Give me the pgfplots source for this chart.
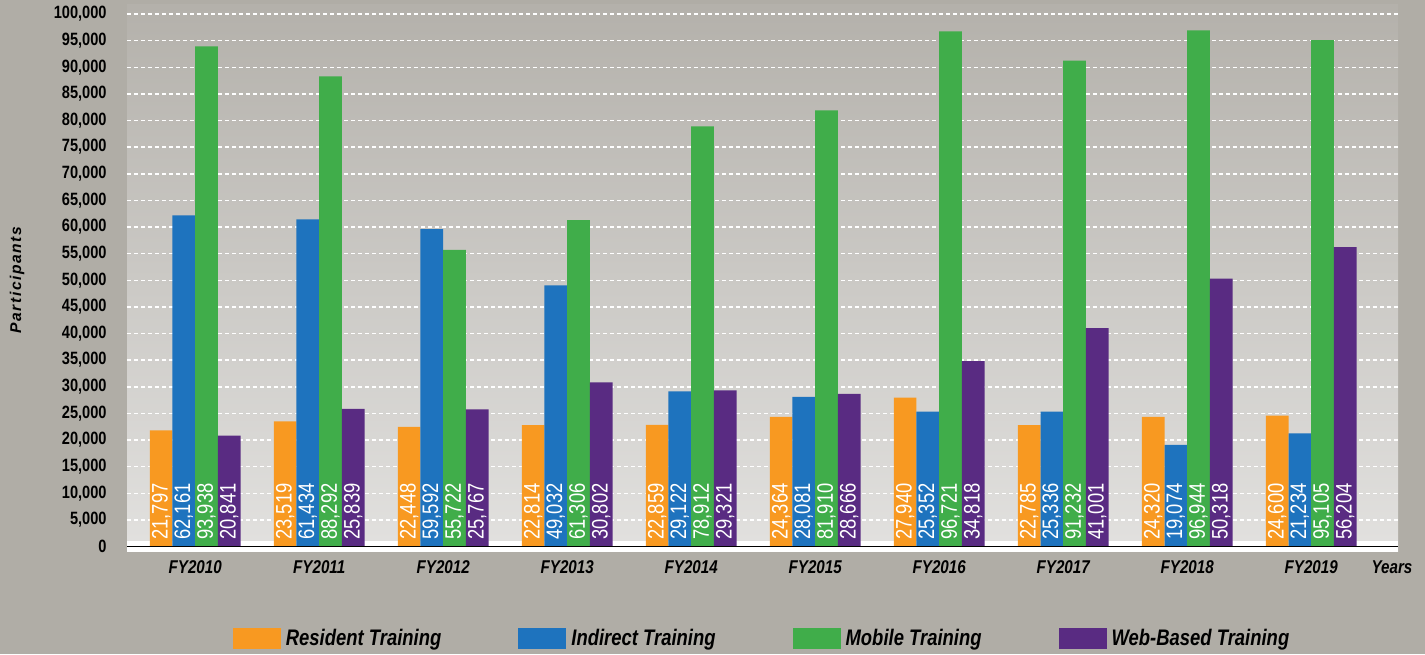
\documentclass[border=0pt]{standalone}
\usepackage{pgfplots}
\pgfplotsset{compat=1.18}
\usepackage{fontspec}
\setmainfont{Liberation Sans}
\newfontfamily\narrow{Liberation Sans}[FakeStretch=0.82]
\definecolor{bgout}{RGB}{176,173,166}
\definecolor{plottop}{RGB}{180,177,171}
\definecolor{plotbot}{RGB}{226,225,223}
\definecolor{cres}{RGB}{248,153,33}
\definecolor{cind}{RGB}{30,115,190}
\definecolor{cmob}{RGB}{64,173,74}
\definecolor{cweb}{RGB}{89,43,130}
\begin{document}
\begin{tikzpicture}
\fill[bgout] (-63.5pt,-53.75pt) rectangle (649pt,273.25pt);
\shade[top color=plottop, bottom color=plotbot] (0,-2.5pt) rectangle (635.5pt,270.75pt);
\begin{axis}[
  width=635.5pt, height=266.25pt, scale only axis,
  xmin=-0.55, xmax=9.7, ymin=0, ymax=100000,
  axis line style={draw=none}, major tick length=0pt,
  ybar=0pt, bar width=11.35pt,
  ytick={0,5000,...,100000},
  xtick={0,...,9},
  xticklabels={FY2010,FY2011,FY2012,FY2013,FY2014,FY2015,FY2016,FY2017,FY2018,FY2019},
  scaled y ticks=false,
  /pgf/number format/.cd, fixed, precision=0, 1000 sep={,}, assume math mode=true,
  /pgfplots/.cd,
  ymajorgrids,
  grid style={white, line width=0.75pt, dash pattern=on 2pt off 1.5pt},
  yticklabel style={font=\narrow\bfseries\fontsize{8.9pt}{10pt}\selectfont, inner xsep=0pt, xshift=-10pt},
  xticklabel style={font=\narrow\bfseries\itshape\fontsize{9.25pt}{11pt}\selectfont, anchor=base, yshift=-13.25pt, inner sep=0pt},
  nodes near coords,
  visualization depends on={y \as \rawy},
  every node near coord/.append style={shift={(axis direction cs:0,-\rawy)}, rotate=90, anchor=west, text=white, font=\narrow\fontsize{11.2pt}{13pt}\selectfont, inner xsep=3.25pt, inner ysep=0pt},
  every axis plot/.append style={draw=none, legend image code/.code={\fill[##1] (0pt,-5.25pt) rectangle (24pt,5.25pt);}},
  legend columns=4,
  legend style={at={(0.0783,-0.1735)}, anchor=west, draw=none, fill=none,
    font=\narrow\bfseries\itshape\fontsize{11.25pt}{13pt}\selectfont,
    nodes={inner xsep=0pt, inner ysep=1pt},
    /tikz/every odd column/.append style={column sep=2.5pt},
    /tikz/every even column/.append style={column sep=38.5pt}},
]
\fill[white] (rel axis cs:0,0) rectangle (rel axis cs:1,0.0103);
\addplot[fill=cres] coordinates {(0,21797) (1,23519) (2,22448) (3,22814) (4,22859) (5,24364) (6,27940) (7,22785) (8,24320) (9,24600)};
\addplot[fill=cind] coordinates {(0,62161) (1,61434) (2,59592) (3,49032) (4,29122) (5,28081) (6,25352) (7,25336) (8,19074) (9,21234)};
\addplot[fill=cmob] coordinates {(0,93938) (1,88292) (2,55722) (3,61306) (4,78912) (5,81910) (6,96721) (7,91232) (8,96944) (9,95105)};
\addplot[fill=cweb] coordinates {(0,20841) (1,25839) (2,25767) (3,30802) (4,29321) (5,28666) (6,34818) (7,41001) (8,50318) (9,56204)};
\legend{Resident Training, Indirect Training, Mobile Training, Web-Based Training}
\end{axis}
\fill[white] (0,0) rectangle (635.5pt,-2.5pt);
\draw[black, line width=0.7pt] (0,-0.1pt) -- (635.5pt,-0.1pt);
\node[anchor=base, inner sep=0pt, font=\narrow\bfseries\itshape\fontsize{9.25pt}{11pt}\selectfont] at (632.5pt,-13.25pt) {Years};
\node[rotate=90, inner sep=0pt, font=\bfseries\itshape\fontsize{7.8pt}{9pt}\selectfont\addfontfeature{LetterSpace=10}] at (-55pt,133.25pt) {Participants};
\pgfresetboundingbox
\path[use as bounding box] (-63.5pt,-53.75pt) rectangle (649pt,273.25pt);
\end{tikzpicture}
\end{document}
